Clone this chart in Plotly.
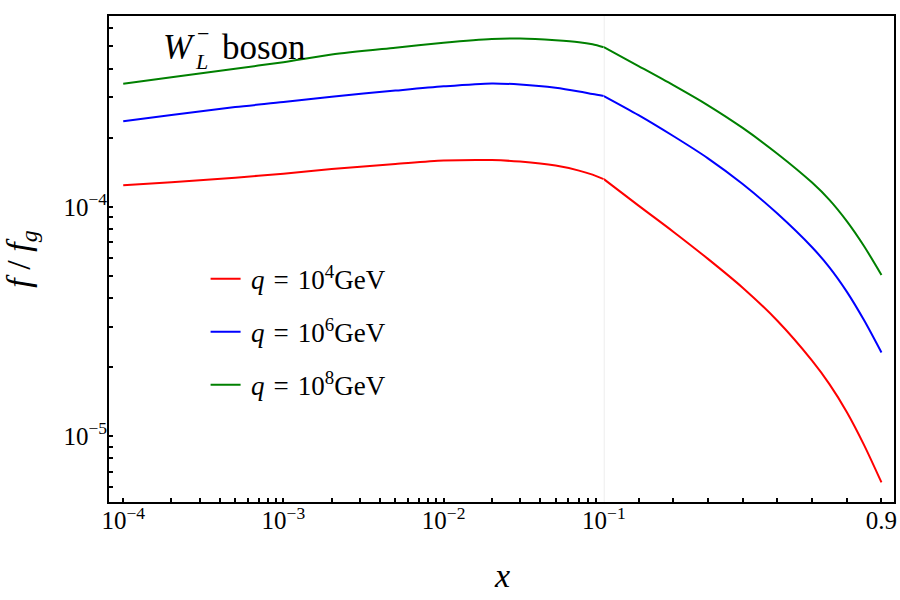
import plotly.graph_objects as go

# ---------------- data ----------------
x_log = [1e-4, 2e-4, 5e-4, 1e-3, 2e-3, 5e-3, 1e-2, 2e-2, 3e-2, 5e-2, 7e-2, 8.5e-2, 0.1]
x_lin = [0.1, 0.2, 0.3, 0.4, 0.5, 0.6, 0.7, 0.75, 0.8, 0.85, 0.9]

red_log = [1.243e-4, 1.281e-4, 1.34e-4, 1.395e-4, 1.46e-4, 1.535e-4, 1.59e-4,
           1.598e-4, 1.574e-4, 1.512e-4, 1.438e-4, 1.381e-4, 1.32e-4]
red_lin = [1.32e-4, 1.012e-4, 7.79e-5, 5.93e-5, 4.44e-5, 3.186e-5, 2.135e-5,
           1.687e-5, 1.276e-5, 9.15e-6, 6.29e-6]

blue_log = [2.362e-4, 2.51e-4, 2.72e-4, 2.86e-4, 3.02e-4, 3.21e-4, 3.35e-4,
            3.45e-4, 3.41e-4, 3.30e-4, 3.18e-4, 3.10e-4, 3.04e-4]
blue_lin = [3.04e-4, 2.51e-4, 2.035e-4, 1.627e-4, 1.257e-4, 9.34e-5, 6.66e-5,
            5.45e-5, 4.27e-5, 3.20e-5, 2.316e-5]

green_log = [3.435e-4, 3.67e-4, 4.0e-4, 4.27e-4, 4.61e-4, 4.94e-4, 5.19e-4,
             5.39e-4, 5.41e-4, 5.32e-4, 5.22e-4, 5.11e-4, 4.96e-4]
green_lin = [4.96e-4, 4.107e-4, 3.391e-4, 2.77e-4, 2.207e-4, 1.704e-4, 1.275e-4,
             1.072e-4, 8.66e-5, 6.73e-5, 5.045e-5]

SP = "\u2004"
series_names = [f"\u2009<i>q</i>{SP}={SP}10<sup>4</sup>GeV",
                f"\u2009<i>q</i>{SP}={SP}10<sup>6</sup>GeV",
                f"\u2009<i>q</i>{SP}={SP}10<sup>8</sup>GeV"]
series_colors = ["#ff0000", "#0000ff", "#008000"]

# tick definitions
xlog_ticks = [m * 10.0 ** e for e in (-4, -3, -2) for m in range(1, 10)]
xlog_labels = {1e-4: "10<sup>−4</sup>", 1e-3: "10<sup>−3</sup>", 1e-2: "10<sup>−2</sup>"}
xlin_ticks = [0.1, 0.2, 0.3, 0.4, 0.5, 0.6, 0.7, 0.8, 0.9]
xlin_labels = ["10<sup>−1</sup>", "", "", "", "", "", "", "", "0.9"]
y_ticks = [m * 10.0 ** e for e in (-6, -5, -4) for m in range(1, 10)]
y_labels = {1e-5: "10<sup>−5</sup>", 1e-4: "10<sup>−4</sup>"}

FONT = "Liberation Serif"

fig = go.Figure()
logs = [red_log, blue_log, green_log]
lins = [red_lin, blue_lin, green_lin]
for i in range(3):
    fig.add_trace(go.Scatter(x=x_log, y=logs[i], mode="lines", name=series_names[i],
                             line=dict(color=series_colors[i], width=2, shape="spline", smoothing=0.8),
                             legendgroup=f"g{i}", showlegend=True, xaxis="x", yaxis="y"))
    fig.add_trace(go.Scatter(x=x_lin, y=lins[i], mode="lines", name=series_names[i],
                             line=dict(color=series_colors[i], width=2, shape="spline", smoothing=0.8),
                             legendgroup=f"g{i}", showlegend=False, xaxis="x2", yaxis="y"))

split = 0.630
tickfont = dict(family=FONT, size=25, color="black")

fig.update_layout(
    width=900, height=600,
    margin=dict(l=108, r=3, t=15, b=97),
    paper_bgcolor="white", plot_bgcolor="white",
    showlegend=True,
    xaxis=dict(type="log", domain=[0, split], range=[-4.095, -1], anchor="y",
               tickmode="array", tickvals=xlog_ticks,
               ticktext=[xlog_labels.get(v, "") for v in xlog_ticks],
               ticks="inside", ticklen=5, tickwidth=1.5, tickcolor="black",
               showgrid=False, zeroline=False, showline=False,
               tickfont=tickfont),
    xaxis2=dict(type="linear", domain=[split, 1], range=[0.0999, 0.939], anchor="y",
                tickmode="array", tickvals=xlin_ticks, ticktext=xlin_labels,
                ticks="inside", ticklen=5, tickwidth=1.5, tickcolor="black",
                showgrid=False, zeroline=False, showline=False, tickfont=tickfont),
    yaxis=dict(type="log", range=[-5.291, -3.164], anchor="x",
               tickmode="array", tickvals=y_ticks,
               ticktext=[y_labels.get(v, "") for v in y_ticks],
               ticks="inside", ticklen=5, tickwidth=1.5, tickcolor="black",
               showgrid=False, zeroline=False, showline=False, tickfont=tickfont,
               title=dict(text="<i>f</i> / <i>f</i><sub><i>g</i></sub>",
                          font=dict(family=FONT, size=34, color="black"), standoff=22)),
    legend=dict(x=0.124, y=0.509, xanchor="left", yanchor="top",
                bgcolor="rgba(0,0,0,0)", font=dict(family=FONT, size=27, color="black"),
                tracegroupgap=15, itemwidth=30),
    shapes=[
        dict(type="line", xref="x2", yref="paper", x0=0.1, x1=0.1, y0=0, y1=1,
             line=dict(color="#d6d6d6", width=1), layer="below"),
        dict(type="rect", xref="paper", yref="paper", x0=0, x1=1, y0=0, y1=1,
             line=dict(color="black", width=2), layer="above"),
    ],
    annotations=[
        dict(text="<i>x</i>", xref="paper", yref="paper", x=0.5, y=-0.149,
             xanchor="center", yanchor="middle", showarrow=False,
             font=dict(family=FONT, size=34, color="black")),
        dict(text="<i>W</i>", xref="paper", yref="paper", x=0.067, y=0.934,
             xanchor="left", yanchor="middle", showarrow=False,
             font=dict(family=FONT, size=35, color="black")),
        dict(text="<i>L</i>", xref="paper", yref="paper", x=0.108, y=0.905,
             xanchor="left", yanchor="middle", showarrow=False,
             font=dict(family=FONT, size=22, color="black")),
        dict(text="−", xref="paper", yref="paper", x=0.110, y=0.962,
             xanchor="left", yanchor="middle", showarrow=False,
             font=dict(family=FONT, size=22, color="black")),
        dict(text="boson", xref="paper", yref="paper", x=0.142, y=0.934,
             xanchor="left", yanchor="middle", showarrow=False,
             font=dict(family=FONT, size=35, color="black")),
    ],
)

fig.write_html("out.html")
